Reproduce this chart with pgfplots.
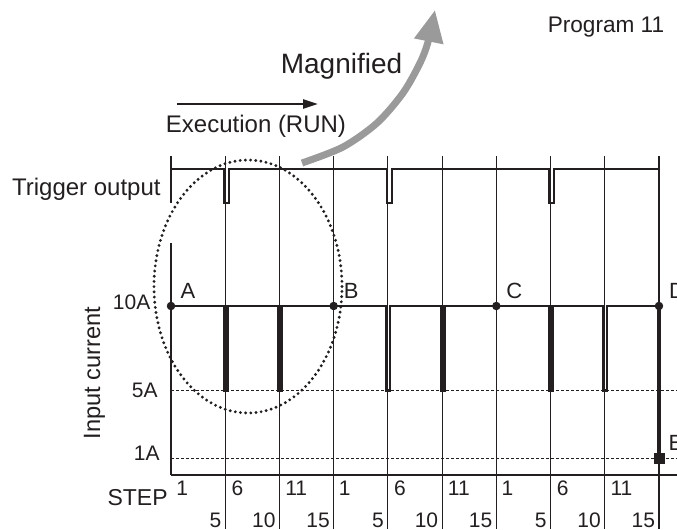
\documentclass[border=0pt]{standalone}
\usepackage{pgfplots}
\pgfplotsset{compat=1.18}
\usetikzlibrary{arrows.meta}
\usepackage{fontspec}
\setmainfont{Liberation Sans}
\definecolor{ink}{HTML}{231F20}
\definecolor{arrowgray}{HTML}{9A9A9A}
\tikzset{lab/.style={inner sep=0pt, text=ink}, num/.style={lab, font=\fontsize{10.5}{12}\selectfont}}
\begin{document}
\begin{tikzpicture}
\begin{axis}[name=ax, width=338.5pt, height=264.5pt, scale only axis, hide axis, clip=false,
  xmin=-15.769, xmax=46.662, ymin=-3.195, ymax=28.107]
% vertical grid lines (every 5 steps)
\addplot[ink, line width=0.6pt, unbounded coords=jump] coordinates {
 (5,18.876) (5,-3.195) (5,nan)
 (10,18.876) (10,-3.195) (10,nan)
 (15,18.876) (15,-3.195) (15,nan)
 (20,18.876) (20,-3.195) (20,nan)
 (25,18.876) (25,-3.195) (25,nan)
 (30,18.876) (30,-3.195) (30,nan)
 (35,18.876) (35,-3.195) (35,nan)
 (40,18.876) (40,-3.195) (40,nan)
 (45,18.876) (45,-3.195)
};
\addplot[ink, line width=0.6pt, unbounded coords=jump] coordinates {(0,18.876) (0,16.112) (0,nan) (0,13.728) (0,0)};
% baseline
\addplot[ink, line width=0.6pt] coordinates {(0,0) (46.662,0)};
% dotted reference levels
\addplot[ink, line width=0.5pt, dash pattern=on 1.5pt off 1pt] coordinates {(0,5) (46.662,5)};
\addplot[ink, line width=0.5pt, dash pattern=on 1.5pt off 1pt] coordinates {(0,1) (46.662,1)};
% trigger output
\addplot[ink, line width=1pt, line join=miter] coordinates {
 (0,18.107) (4.9,18.107) (4.9,16.112) (5.35,16.112) (5.35,18.107)
 (19.9,18.107) (19.9,16.112) (20.35,16.112) (20.35,18.107)
 (34.9,18.107) (34.9,16.112) (35.35,16.112) (35.35,18.107) (45,18.107)};
% input current
\addplot[ink, line width=1.4pt, line join=miter] coordinates {
 (0,10) (4.9,10) (4.9,5) (5.2,5) (5.2,10)
 (9.9,10) (9.9,5) (10.2,5) (10.2,10)
 (19.9,10) (19.9,5) (20.2,5) (20.2,10)
 (24.9,10) (24.9,5) (25.2,5) (25.2,10)
 (34.9,10) (34.9,5) (35.2,5) (35.2,10)
 (39.9,10) (39.9,5) (40.2,5) (40.2,10)
 (45,10)};
% final drop D -> E
\addplot[ink, line width=1.6pt] coordinates {(45,10) (45,1)};
\addplot[only marks, mark=*, mark size=1.9pt, ink] coordinates {(0,10) (15,10) (30,10) (45,10)};
\addplot[only marks, mark=square*, mark size=2.5pt, ink] coordinates {(45,1)};
% dotted ellipse
\draw[ink, line width=1.6pt, dash pattern=on 0pt off 2.6pt, line cap=round] (axis cs:7.101,11.154) ellipse [x radius=47pt, y radius=63.25pt];
% magnified arrow
\addplot[arrowgray, line width=3.5pt, smooth, -{Triangle[length=16pt,width=14pt]}] coordinates {
 (12.080,18.462) (15.861,19.408) (18.997,20.828) (21.394,22.604) (22.962,24.379) (23.700,25.621) (24.345,27.515)};
% execution arrow
\draw[ink, line width=1.2pt, -{Triangle[length=7.5pt,width=4.5pt]}] (axis cs:0.553,21.953) -- (axis cs:13.556,21.953);
% texts
\node[lab, anchor=base, font=\fontsize{11.3}{13}\selectfont] at (axis cs:40.114,26.213) {Program 11};
\node[lab, anchor=base, font=\fontsize{14}{16}\selectfont] at (axis cs:15.723,23.728) {Magnified};
\node[lab, anchor=base, font=\fontsize{12}{14}\selectfont] at (axis cs:7.838,20.237) {Execution (RUN)};
\node[lab, anchor=base east, font=\fontsize{12}{14}\selectfont] at (axis cs:-0.922,16.568) {Trigger output};
\node[lab, anchor=base, rotate=90, font=\fontsize{11.8}{14}\selectfont] at (axis cs:-6.547,6.036) {Input current};
\node[num, anchor=base east] at (axis cs:-1.872,9.822) {10A};
\node[num, anchor=base east] at (axis cs:-1.199,4.615) {5A};
\node[num, anchor=base east] at (axis cs:-1.014,0.888) {1A};
\node[lab, anchor=base east, font=\fontsize{11.5}{13}\selectfont] at (axis cs:-0.277,-1.775) {STEP};
\node[lab, anchor=base west, font=\fontsize{11}{13}\selectfont] at (axis cs:0.85,10.473) {A};
\node[lab, anchor=base west, font=\fontsize{11}{13}\selectfont] at (axis cs:15.9,10.473) {B};
\node[lab, anchor=base west, font=\fontsize{11}{13}\selectfont] at (axis cs:30.9,10.473) {C};
\node[lab, anchor=base west, font=\fontsize{11}{13}\selectfont] at (axis cs:45.9,10.473) {D};
\node[lab, anchor=base west, font=\fontsize{11}{13}\selectfont] at (axis cs:45.85,1.479) {E};
% step numbers, top row
\node[num, anchor=base west] at (axis cs:0.45,-1.183) {1};
\node[num, anchor=base west] at (axis cs:5.55,-1.183) {6};
\node[num, anchor=base west] at (axis cs:10.5,-1.183) {11};
\node[num, anchor=base west] at (axis cs:15.45,-1.183) {1};
\node[num, anchor=base west] at (axis cs:20.55,-1.183) {6};
\node[num, anchor=base west] at (axis cs:25.5,-1.183) {11};
\node[num, anchor=base west] at (axis cs:30.45,-1.183) {1};
\node[num, anchor=base west] at (axis cs:35.55,-1.183) {6};
\node[num, anchor=base west] at (axis cs:40.5,-1.183) {11};
% step numbers, bottom row
\node[num, anchor=base east] at (axis cs:4.67,-3.077) {5};
\node[num, anchor=base east] at (axis cs:9.67,-3.077) {10};
\node[num, anchor=base east] at (axis cs:14.67,-3.077) {15};
\node[num, anchor=base east] at (axis cs:19.67,-3.077) {5};
\node[num, anchor=base east] at (axis cs:24.67,-3.077) {10};
\node[num, anchor=base east] at (axis cs:29.67,-3.077) {15};
\node[num, anchor=base east] at (axis cs:34.67,-3.077) {5};
\node[num, anchor=base east] at (axis cs:39.67,-3.077) {10};
\node[num, anchor=base east] at (axis cs:44.67,-3.077) {15};
\end{axis}
\pgfresetboundingbox
\useasboundingbox (ax.south west) rectangle (ax.north east);
\end{tikzpicture}
\end{document}
